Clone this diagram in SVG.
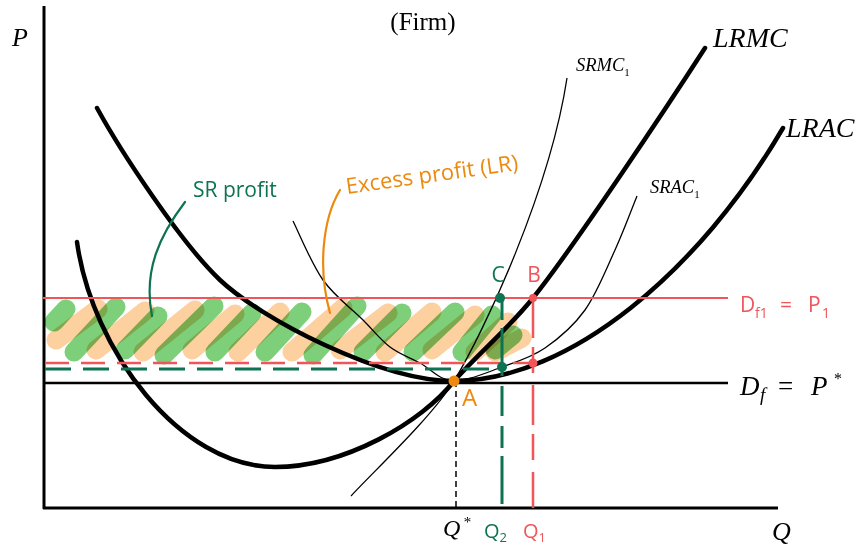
<svg xmlns="http://www.w3.org/2000/svg" width="858" height="547" viewBox="0 0 858 547">
<style>
.axis{stroke:#000;stroke-width:3;fill:none}
.thick{stroke:#000;stroke-width:4.5;fill:none;stroke-linecap:round}
.thin{stroke:#000;stroke-width:1.3;fill:none}
.hg{stroke:#7dcf7a;stroke-width:19;stroke-linecap:round;mix-blend-mode:multiply}
.ho{stroke:#fdd0a0;stroke-width:19;stroke-linecap:round;mix-blend-mode:multiply}
.math{font-family:"Liberation Serif",serif;font-style:italic;fill:#000}
.hand{font-family:"Open Sans","Liberation Sans",sans-serif}
.red{fill:#f0555a}
.grn{fill:#0d7352}
.org{fill:#ec8a10}
</style>
<rect width="858" height="547" fill="#fff"/>
<g id="hatch">
<line class="ho" x1="56" y1="340" x2="98" y2="309"/>
<line class="ho" x1="96" y1="350" x2="145" y2="311"/>
<line class="ho" x1="143" y1="352" x2="195" y2="310"/>
<line class="ho" x1="192" y1="350" x2="235" y2="314"/>
<line class="ho" x1="238" y1="352" x2="280" y2="312"/>
<line class="ho" x1="292" y1="352" x2="343" y2="308"/>
<line class="ho" x1="340" y1="350" x2="388" y2="313"/>
<line class="ho" x1="385" y1="352" x2="432" y2="312"/>
<line class="ho" x1="432" y1="350" x2="475" y2="315"/>
<line class="ho" x1="475" y1="352" x2="508" y2="322"/>
<line class="ho" x1="495" y1="352" x2="522" y2="338"/>
<line class="hg" x1="54" y1="322" x2="66" y2="309"/>
<line class="hg" x1="74" y1="352" x2="116" y2="307"/>
<line class="hg" x1="125" y1="350" x2="158" y2="316"/>
<line class="hg" x1="164" y1="355" x2="214" y2="306"/>
<line class="hg" x1="215" y1="352" x2="252" y2="313"/>
<line class="hg" x1="265" y1="352" x2="302" y2="312"/>
<line class="hg" x1="313" y1="355" x2="357" y2="306"/>
<line class="hg" x1="363" y1="352" x2="402" y2="313"/>
<line class="hg" x1="413" y1="352" x2="455" y2="312"/>
<line class="hg" x1="462" y1="352" x2="492" y2="315"/>
<line class="hg" x1="495" y1="350" x2="513" y2="335"/>
</g>
<g id="axes">
<line class="axis" x1="44" y1="6" x2="44" y2="509"/>
<line class="axis" x1="43" y1="508" x2="778" y2="508"/>
<text class="math" x="12" y="46" font-size="26">P</text>
<text class="math" x="772" y="540" font-size="26">Q</text>
<text x="423" y="30" font-family="Liberation Serif,serif" font-size="25" text-anchor="middle">(Firm)</text>
</g>
<g id="LRAC">
<path class="thick" d="M97,108 C120,150 180,242 220,280 C260,318 380,381 454,381 C570,381 700,270 783,128"/>
<text class="math" x="786" y="137" font-size="28">LRAC</text>
</g>
<g id="LRMC">
<path class="thick" d="M77,242 C92,350 180,467 275,467 C345,467 422,422 454,381 C484,348 508,329 533,298 C573,248 665,110 705,48"/>
<text class="math" x="713" y="47" font-size="28">LRMC</text>
</g>
<g id="SRMC1">
<path class="thin" d="M351,496 C375,470 432,417 454,381 C485,330 550,190 567,78"/>
<text class="math" x="576" y="71" font-size="18.5">SRMC<tspan font-size="11" dy="5" font-style="normal">1</tspan></text>
</g>
<g id="SRAC1">
<path class="thin" d="M293,221 C298,230.8 311.3,263.5 323,280 C334.7,296.5 351.8,308.8 363,320 C374.2,331.2 380.5,339.8 390,347 C399.5,354.2 409.3,357.3 420,363 C430.7,368.7 440,381 454,381 C468,381 486.8,372.5 502,367 C517.2,361.5 531.2,357.5 545,348 C558.8,338.5 573.3,326.3 585,310 C596.7,293.7 606.3,269 615,250 C623.7,231 633.3,205 637,196"/>
<text class="math" x="650" y="193" font-size="18.5">SRAC<tspan font-size="11" dy="5" font-style="normal">1</tspan></text>
</g>
<g id="connectors">
<line x1="43" y1="298" x2="728" y2="298" stroke="#f0555a" stroke-width="2"/>
<line x1="43" y1="383" x2="728" y2="383" stroke="#000" stroke-width="2.5"/>
<line x1="45" y1="363" x2="533" y2="363" stroke="#f0555a" stroke-width="2.5" stroke-dasharray="24 12"/>
<line x1="45" y1="369" x2="502" y2="369" stroke="#0d7352" stroke-width="3" stroke-dasharray="26 12"/>
<line x1="502" y1="298" x2="502" y2="508" stroke="#0d7352" stroke-width="3" stroke-dasharray="22 8 48 10 30 10"/>
<line x1="533" y1="298" x2="533" y2="508" stroke="#f0555a" stroke-width="2.5" stroke-dasharray="40 9 26 12"/>
<line x1="456" y1="381" x2="456" y2="508" stroke="#000" stroke-width="1.5" stroke-dasharray="6 4"/>
<path d="M185,202 C160,235 143,270 152,316" fill="none" stroke="#0d7352" stroke-width="2.2" stroke-linecap="round"/>
<path d="M340,190 C322,220 318,270 330,313" fill="none" stroke="#ec8a10" stroke-width="2.2" stroke-linecap="round"/>
</g>
<g id="points">
<circle cx="454" cy="381" r="5.5" fill="#ec8a10"/>
<circle cx="500" cy="298" r="5" fill="#0d7352"/>
<circle cx="502" cy="367" r="5" fill="#0d7352"/>
<circle cx="533" cy="298" r="4" fill="#f0555a"/>
<circle cx="533" cy="363" r="4.5" fill="#f0555a"/>
</g>
<g id="labels">
<text class="hand org" x="462" y="406" font-size="24">A</text>
<text class="hand grn" x="498" y="282" font-size="21" text-anchor="middle">C</text>
<text class="hand red" x="534" y="282" font-size="21" text-anchor="middle">B</text>
<text class="hand grn" x="193" y="197" font-size="21">SR profit</text>
<text class="hand org" x="347" y="194" font-size="22" transform="rotate(-8 347 194)">Excess profit (LR)</text>
<text class="math" x="443" y="536" font-size="24">Q</text>
<text class="math" x="463" y="527" font-size="15" font-style="normal">*</text>
<text class="hand grn" x="484" y="538" font-size="20">Q<tspan font-size="13" dy="4">2</tspan></text>
<text class="hand red" x="523" y="538" font-size="20">Q<tspan font-size="13" dy="4">1</tspan></text>
<text class="math" x="740" y="395" font-size="27">D</text>
<text class="math" x="760" y="401" font-size="19">f</text>
<text x="778" y="395" font-size="27" font-family="Liberation Serif,serif">=</text>
<text class="math" x="811" y="395" font-size="27">P</text>
<text x="834" y="384" font-size="16" font-family="Liberation Serif,serif">*</text>
<text class="hand red" x="740" y="312" font-size="21">D</text>
<text class="hand red" x="755" y="318" font-size="14">f1</text>
<text class="hand red" x="780" y="312" font-size="21">=</text>
<text class="hand red" x="808" y="312" font-size="21">P</text>
<text class="hand red" x="822" y="318" font-size="14">1</text>
</g>
</svg>
